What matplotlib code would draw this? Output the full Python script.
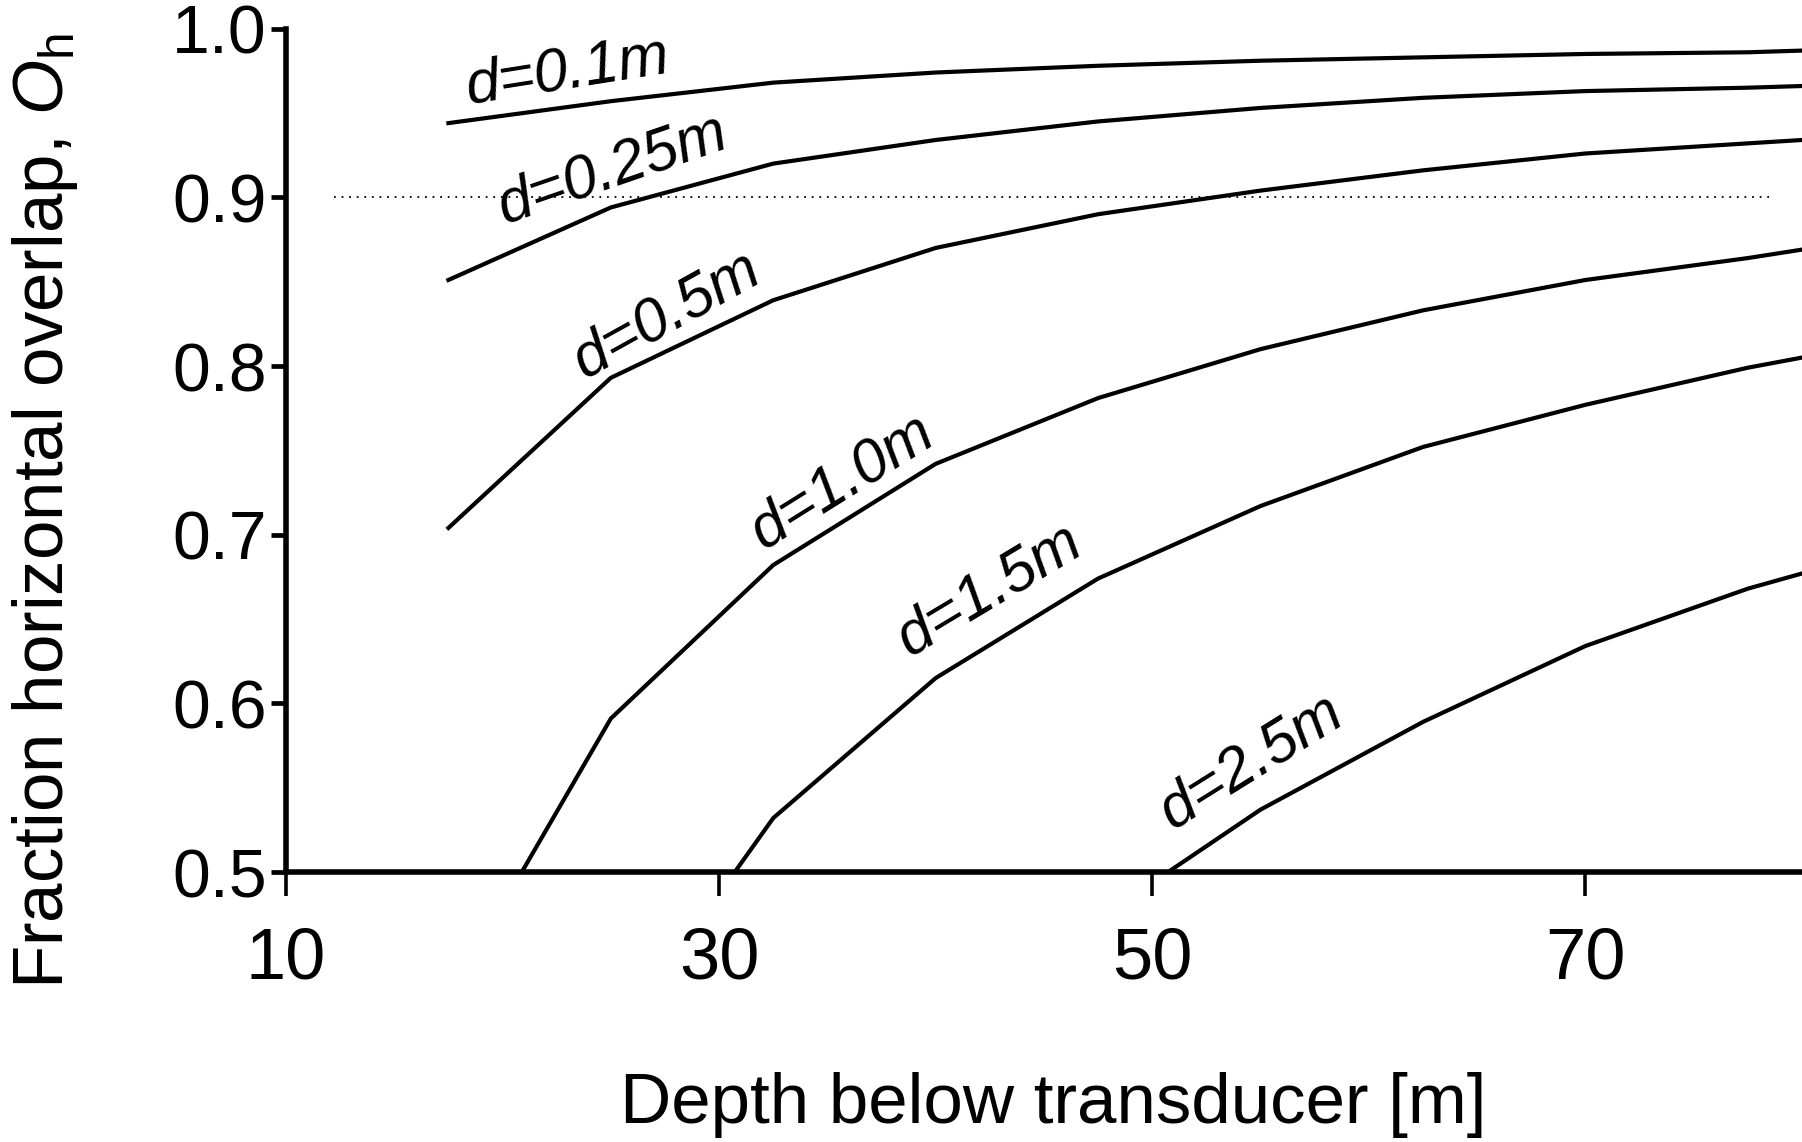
import numpy as np
import matplotlib
matplotlib.use("Agg")
import matplotlib.pyplot as plt
from matplotlib import font_manager

plt.rcParams['font.family'] = ['Liberation Sans', 'DejaVu Sans']
plt.rcParams['mathtext.fontset'] = 'custom'
plt.rcParams['mathtext.rm'] = 'Liberation Sans'
plt.rcParams['mathtext.it'] = 'Liberation Sans:italic'

# ---- data ----
depth = [17.5, 25, 32.5, 40, 47.5, 55, 62.5, 70, 77.5, 80]
d_01 = [0.944, 0.957, 0.968, 0.974, 0.978, 0.981, 0.983, 0.985, 0.986, 0.987]
d_025 = [0.851, 0.894, 0.920, 0.934, 0.945, 0.953, 0.959, 0.963, 0.965, 0.966]
d_05 = [0.704, 0.793, 0.839, 0.870, 0.890, 0.904, 0.916, 0.926, 0.932, 0.934]
d_10 = [0.425, 0.591, 0.682, 0.742, 0.781, 0.810, 0.833, 0.851, 0.864, 0.869]
d_15 = [np.nan, 0.397, 0.532, 0.615, 0.674, 0.717, 0.752, 0.777, 0.799, 0.805]
d_25 = [np.nan, np.nan, np.nan, np.nan, 0.472, 0.537, 0.589, 0.634, 0.668, 0.677]

series = [d_01, d_025, d_05, d_10, d_15, d_25]
labels = ["d=0.1m", "d=0.25m", "d=0.5m", "d=1.0m", "d=1.5m", "d=2.5m"]
label_x = [23.0, 25.1, 27.6, 35.7, 42.5, 54.6]
label_y = [0.974, 0.916, 0.830, 0.731, 0.667, 0.565]
label_rot = [9, 19, 29, 32, 31, 32]

threshold = 0.9
thr_x = [12.2, 78.5]

x_ticks = [10, 30, 50, 70]
y_ticks = [0.5, 0.6, 0.7, 0.8, 0.9, 1.0]

# condensed face for the x tick labels if present
try:
    font_manager.findfont(font_manager.FontProperties(family='Liberation Sans Narrow'),
                          fallback_to_default=False)
    xfam, xsize = 'Liberation Sans Narrow', 57
except Exception:
    xfam, xsize = 'Liberation Sans', 52

# ---- figure ----
fig = plt.figure(figsize=(18.02, 11.42), dpi=100)
ax = fig.add_axes([0.1587, 0.2364, 0.8413, 0.7385])

for s in series:
    ax.plot(depth, s, color='black', lw=3.0, solid_joinstyle='miter')

ax.plot(thr_x, [threshold, threshold], color='black', lw=1.3, ls=(0, (1, 3.2)))

for t, x, y, r in zip(labels, label_x, label_y, label_rot):
    ax.text(x, y, t, fontsize=44, style='italic', rotation=r,
            rotation_mode='anchor', ha='center', va='center')

ax.set_xlim(10, 80)
ax.set_ylim(0.5, 1.0)
ax.set_xticks(x_ticks)
ax.set_yticks(y_ticks)
ax.set_yticklabels([f"{v:.1f}" for v in y_ticks])

for side in ['top', 'right']:
    ax.spines[side].set_visible(False)
for side in ['left', 'bottom']:
    ax.spines[side].set_linewidth(4.0)

ax.tick_params(axis='y', direction='out', length=11, width=3.4, pad=3, labelsize=49)
ax.tick_params(axis='x', direction='out', length=17, width=2.6, pad=22, labelsize=xsize)
for lab in ax.get_xticklabels():
    lab.set_family(xfam)

fig.text(0.5845, 0.0325, "Depth below transducer [m]", fontsize=51,
         ha='center', va='center')
fig.text(0.0250, 0.5525, r"Fraction horizontal overlap, $\mathit{O}_\mathregular{h}$",
         fontsize=51, rotation=90, ha='center', va='center')

fig.savefig("out.png", dpi=100)
